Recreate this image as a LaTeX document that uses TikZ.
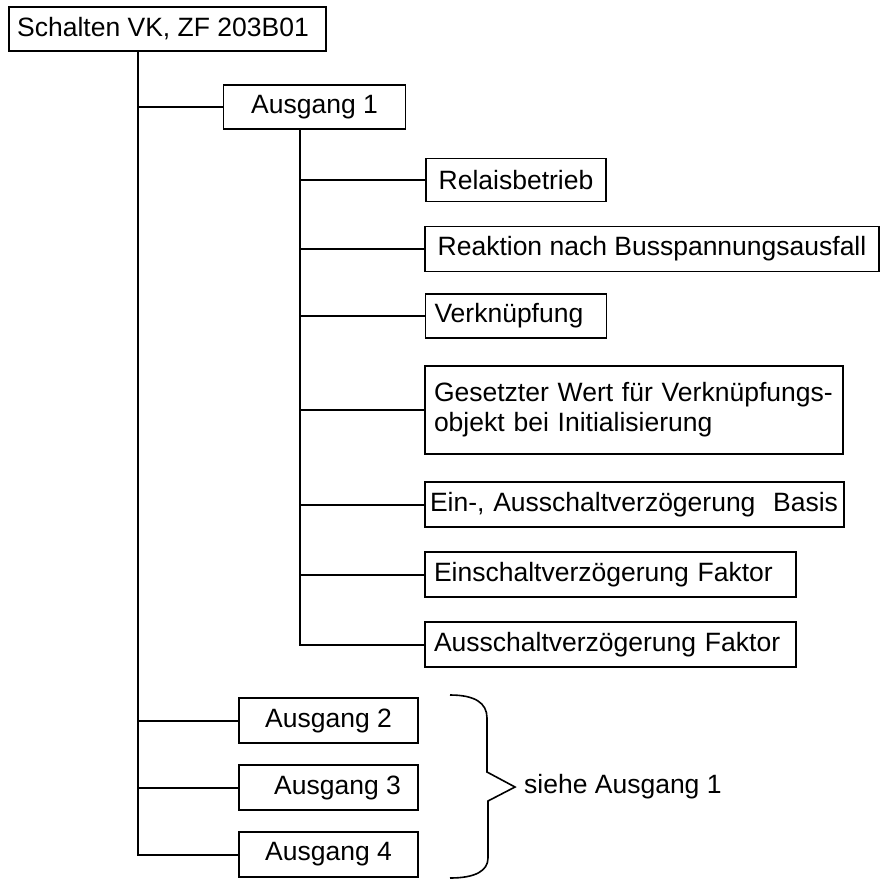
\documentclass[tikz,border=0pt]{standalone}
\usepackage{fontspec}
\setmainfont{Liberation Sans}
\begin{document}
\begin{tikzpicture}[x=1pt,y=-1pt,
  box/.style={draw,line width=1.4pt,inner xsep=9pt,inner ysep=0pt,
    font=\fontsize{26.5}{30}\selectfont},
  cbox/.style={box,align=center},
  lbox/.style={box,align=left},
  wire/.style={line width=2pt}]
\useasboundingbox (0,0) rectangle (879,880);

% root and first level
\node[cbox,minimum width=317pt,minimum height=44pt] (top) at (167.5,29) {\hspace*{-9pt}Schalten VK, ZF 203B01};
\node[cbox,minimum width=182pt,minimum height=44pt] (a1) at (314.5,107) {Ausgang 1};
\node[cbox,minimum width=179pt,minimum height=45pt] (a2) at (328.5,720.5) {Ausgang 2};
\node[cbox,minimum width=179pt,minimum height=45pt] (a3) at (328.5,787.5) {\hspace{18pt}Ausgang 3};
\node[cbox,minimum width=179pt,minimum height=45pt] (a4) at (328.5,854.5) {Ausgang 4};

% parameters of output 1
\node[cbox,minimum width=180pt,minimum height=43pt] (p1) at (516,180) {Relaisbetrieb};
\node[cbox,minimum width=454pt,minimum height=45pt] (p2) at (652,249) {Reaktion nach Busspannungsausfall};
\node[lbox,text width=163pt,minimum height=44pt] (p3) at (516,316) {Verknüpfung};
\node[lbox,text width=400pt,minimum height=88pt] (p4) at (634,410) {Gesetzter Wert für Verknüpfungs-\\objekt bei Initialisierung};
\node[lbox,inner xsep=5pt,text width=409pt,minimum height=45pt] (p5) at (634.5,504.5) {Ein-, Ausschaltverzögerung\ \ Basis};
\node[lbox,text width=353pt,minimum height=45pt] (p6) at (610.5,574.5) {Einschaltverzögerung Faktor};
\node[lbox,text width=353pt,minimum height=45pt] (p7) at (610.5,644.5) {Ausschaltverzögerung Faktor};

% tree connectors
\coordinate (t1) at (138,0);
\coordinate (t2) at (300,0);
\draw[wire] (top.south -| t1) |- (a4.west);
\draw[wire] (t1 |- a1.west) -- (a1.west);
\draw[wire] (t1 |- a2.west) -- (a2.west);
\draw[wire] (t1 |- a3.west) -- (a3.west);
\draw[wire] (a1.south -| t2) |- (p7.west);
\foreach \p in {p1,p2,p3,p4,p5,p6}
  \draw[wire] (t2 |- \p.west) -- (\p.west);

% brace grouping outputs 2 to 4
\coordinate (bt) at (450,695);
\coordinate (bb) at (450,878);
\coordinate (tip) at (515,787);
\draw[line width=1.6pt,line join=miter]
  (bt) .. controls (475,695) and (487,703) .. (487,718)
  -- (487,772) -- (tip) -- (488,801) -- (488,858)
  .. controls (488,871) and (475,878) .. (bb);
\node[anchor=west,inner sep=0pt,font=\fontsize{26.5}{30}\selectfont] (see) at (524,787) {siehe Ausgang 1};
\end{tikzpicture}
\end{document}
